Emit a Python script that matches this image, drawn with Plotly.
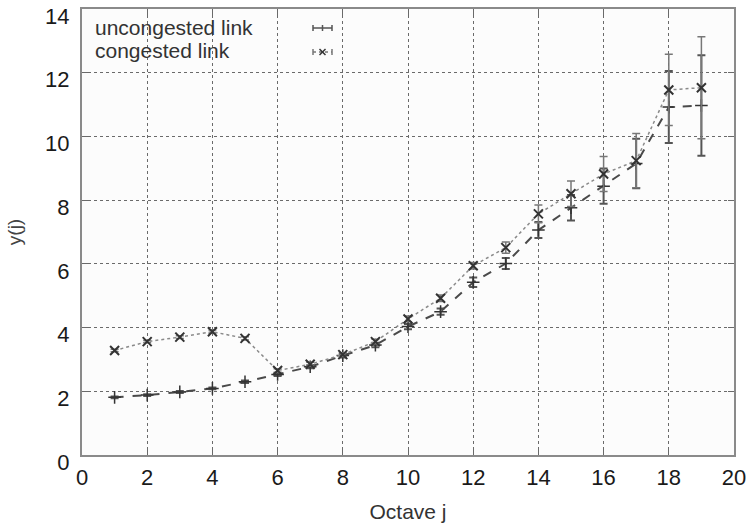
import plotly.graph_objects as go

octaves = list(range(1, 20))
uncongested = [1.81, 1.88, 1.98, 2.09, 2.30, 2.53, 2.77, 3.12, 3.45, 4.03,
               4.50, 5.42, 6.01, 7.06, 7.76, 8.44, 9.15, 10.92, 10.97]
uncongested_err = [0.03, 0.03, 0.03, 0.03, 0.04, 0.05, 0.05, 0.06, 0.07, 0.08,
                   0.10, 0.15, 0.17, 0.25, 0.40, 0.55, 0.78, 1.13, 1.58]
congested = [3.28, 3.56, 3.70, 3.87, 3.66, 2.65, 2.85, 3.15, 3.56, 4.27,
             4.92, 5.94, 6.51, 7.57, 8.20, 8.82, 9.24, 11.46, 11.53]
congested_err = [0.04, 0.04, 0.04, 0.05, 0.05, 0.06, 0.06, 0.06, 0.07, 0.09,
                 0.10, 0.10, 0.18, 0.28, 0.40, 0.55, 0.85, 1.12, 1.60]

x_ticks = list(range(0, 21, 2))
y_ticks = list(range(0, 15, 2))

FONT = "Liberation Sans, Arial, sans-serif"

fig = go.Figure()
fig.add_trace(go.Scatter(
    x=octaves, y=uncongested, mode="lines+markers", name="uncongested link",
    line=dict(color="#4a4a4a", width=2, dash="dash"),
    marker=dict(symbol="cross-thin", size=9, line=dict(color="#333", width=1.5)),
    error_y=dict(type="data", array=uncongested_err, color="#555", thickness=2, width=4),
    showlegend=False,
))
fig.add_trace(go.Scatter(
    x=octaves, y=congested, mode="lines+markers", name="congested link",
    line=dict(color="#8a8a8a", width=1.5, dash="dot"),
    marker=dict(symbol="x-thin", size=9, line=dict(color="#333", width=2)),
    error_y=dict(type="data", array=congested_err, color="#777", thickness=1.5, width=4),
    showlegend=False,
))

# plot area in page pixels: x 82..734, y 9..455
def px(xp):
    return (xp - 82) / (734 - 82)
def py(yp):
    return (455 - yp) / (455 - 9)

# legend drawn gnuplot-style (text left, sample right)
fig.add_annotation(xref="paper", yref="paper", x=px(93), y=py(27), text="uncongested link",
                   showarrow=False, xanchor="left", yanchor="middle",
                   font=dict(family=FONT, size=21, color="#333"))
fig.add_annotation(xref="paper", yref="paper", x=px(93), y=py(50), text="congested link",
                   showarrow=False, xanchor="left", yanchor="middle",
                   font=dict(family=FONT, size=21, color="#333"))
y1, y2 = 28, 52
fig.add_shape(type="line", xref="paper", yref="paper", x0=px(313), x1=px(332), y0=py(y1), y1=py(y1),
              line=dict(color="#555", width=1.5))
for xx in (313, 322.5, 332):
    fig.add_shape(type="line", xref="paper", yref="paper", x0=px(xx), x1=px(xx), y0=py(y1 - 3), y1=py(y1 + 3),
                  line=dict(color="#555", width=1.5))
fig.add_shape(type="line", xref="paper", yref="paper", x0=px(313), x1=px(332), y0=py(y2), y1=py(y2),
              line=dict(color="#777", width=1.5, dash="dot"))
for xx in (313, 332):
    fig.add_shape(type="line", xref="paper", yref="paper", x0=px(xx), x1=px(xx), y0=py(y2 - 3), y1=py(y2 + 3),
                  line=dict(color="#777", width=1.5))
fig.add_shape(type="line", xref="paper", yref="paper", x0=px(319.5), x1=px(325.5), y0=py(y2 - 3), y1=py(y2 + 3),
              line=dict(color="#333", width=1.5))
fig.add_shape(type="line", xref="paper", yref="paper", x0=px(319.5), x1=px(325.5), y0=py(y2 + 3), y1=py(y2 - 3),
              line=dict(color="#333", width=1.5))

axis_common = dict(
    showline=True, mirror="ticks", linecolor="#8a8a8a", linewidth=2,
    showgrid=True, gridcolor="#6a6a6a", gridwidth=1, griddash="dot",
    ticks="inside", ticklen=6, tickcolor="#6a6a6a", zeroline=False,
    automargin=False, ticklabeloverflow="allow",
    tickfont=dict(family=FONT, size=22, color="#1a1a1a"),
)
fig.update_xaxes(range=[0, 20], tickvals=x_ticks, ticktext=[str(v) for v in x_ticks],
                 ticklabelstandoff=2,
                 title=dict(text="Octave j", font=dict(family=FONT, size=21, color="#333"),
                            standoff=15),
                 **axis_common)
fig.update_yaxes(range=[0, 14], tickvals=y_ticks, ticktext=[str(v) for v in y_ticks],
                 ticklabelstandoff=6, ticklabelshift=7,
                 title=dict(text="y(j)", font=dict(family=FONT, size=19, color="#444"),
                            standoff=18),
                 **axis_common)

fig.update_layout(
    width=747, height=526,
    margin=dict(l=82, r=13, t=9, b=71),
    paper_bgcolor="white", plot_bgcolor="#fcfcfc",
)

fig.write_html("out.html", config={"displayModeBar": False},
               post_script="document.body.style.margin='0';document.body.style.overflow='hidden';")
